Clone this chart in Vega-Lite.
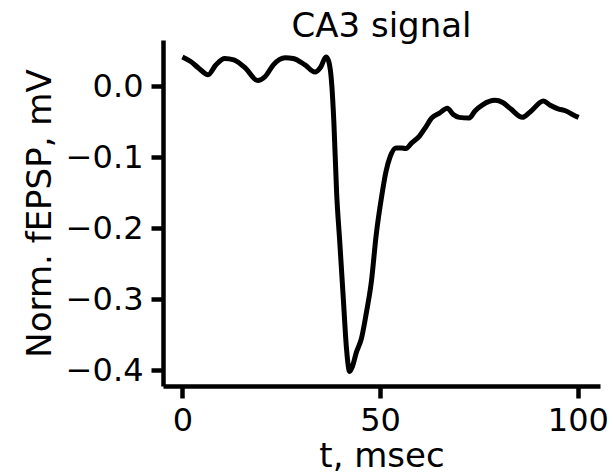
{
  "$schema": "https://vega.github.io/schema/vega-lite/v6.json",
  "autosize": "none",
  "width": 437,
  "height": 346,
  "padding": {"left": 163, "top": 40, "right": 13, "bottom": 89},
  "background": "white",
  "config": {
    "view": {"stroke": null},
    "font": "DejaVu Sans",
    "axis": {
      "grid": false,
      "domainColor": "black",
      "domainWidth": 4.5,
      "tickColor": "black",
      "tickWidth": 4.5,
      "tickSize": 12,
      "labelFontSize": 32,
      "labelColor": "black",
      "labelFont": "DejaVu Sans",
      "titleFontSize": 34,
      "titleFont": "DejaVu Sans",
      "titleFontWeight": "normal",
      "titleColor": "black"
    }
  },
  "title": {
    "text": "CA3 signal",
    "fontSize": 34,
    "font": "DejaVu Sans",
    "fontWeight": "normal",
    "color": "black",
    "anchor": "middle",
    "offset": -4
  },
  "data": {
    "values": [
      {"t": 0, "v": 0.041},
      {"t": 2, "v": 0.035},
      {"t": 4, "v": 0.026},
      {"t": 6.5, "v": 0.016},
      {"t": 8.5, "v": 0.03},
      {"t": 10.7, "v": 0.039},
      {"t": 13, "v": 0.037},
      {"t": 16, "v": 0.025},
      {"t": 19, "v": 0.008},
      {"t": 21, "v": 0.014},
      {"t": 23, "v": 0.03},
      {"t": 26, "v": 0.04},
      {"t": 28, "v": 0.039},
      {"t": 31, "v": 0.03},
      {"t": 33.5, "v": 0.02},
      {"t": 35, "v": 0.027},
      {"t": 36.3, "v": 0.041},
      {"t": 37, "v": 0.035},
      {"t": 37.8, "v": 0.0},
      {"t": 38.3, "v": -0.05},
      {"t": 39, "v": -0.15},
      {"t": 39.8, "v": -0.22},
      {"t": 40.7, "v": -0.3},
      {"t": 41.5, "v": -0.37},
      {"t": 42.3, "v": -0.402},
      {"t": 43, "v": -0.395},
      {"t": 44, "v": -0.375},
      {"t": 45.3, "v": -0.355},
      {"t": 46.5, "v": -0.32},
      {"t": 47.8, "v": -0.275},
      {"t": 49, "v": -0.21},
      {"t": 50.4, "v": -0.155},
      {"t": 51.5, "v": -0.12},
      {"t": 52.5, "v": -0.1},
      {"t": 54, "v": -0.087},
      {"t": 55.5, "v": -0.087},
      {"t": 56.5, "v": -0.088},
      {"t": 58, "v": -0.08},
      {"t": 60, "v": -0.07},
      {"t": 61.5, "v": -0.058},
      {"t": 63, "v": -0.045},
      {"t": 65, "v": -0.038},
      {"t": 67, "v": -0.031},
      {"t": 68.5, "v": -0.04},
      {"t": 70, "v": -0.044},
      {"t": 72.5, "v": -0.045},
      {"t": 74, "v": -0.035},
      {"t": 76, "v": -0.026},
      {"t": 79, "v": -0.02},
      {"t": 81, "v": -0.023},
      {"t": 83, "v": -0.032},
      {"t": 86, "v": -0.044},
      {"t": 88, "v": -0.036},
      {"t": 91.3, "v": -0.021},
      {"t": 93, "v": -0.027},
      {"t": 95, "v": -0.032},
      {"t": 97, "v": -0.035},
      {"t": 99, "v": -0.041},
      {"t": 100.2, "v": -0.044}
    ]
  },
  "mark": {"type": "line", "color": "black", "strokeWidth": 5, "interpolate": "monotone"},
  "encoding": {
    "x": {
      "field": "t",
      "type": "quantitative",
      "scale": {"domain": [-4.9, 105.6], "nice": false, "zero": false},
      "axis": {"values": [0, 50, 100], "title": "t, msec", "labelPadding": 7, "titlePadding": 3}
    },
    "y": {
      "field": "v",
      "type": "quantitative",
      "scale": {"domain": [-0.4225, 0.065], "nice": false, "zero": false},
      "axis": {"values": [-0.4, -0.3, -0.2, -0.1, 0.0], "format": ".1f", "title": "Norm. fEPSP, mV", "labelPadding": 8, "titlePadding": 8}
    }
  }
}
